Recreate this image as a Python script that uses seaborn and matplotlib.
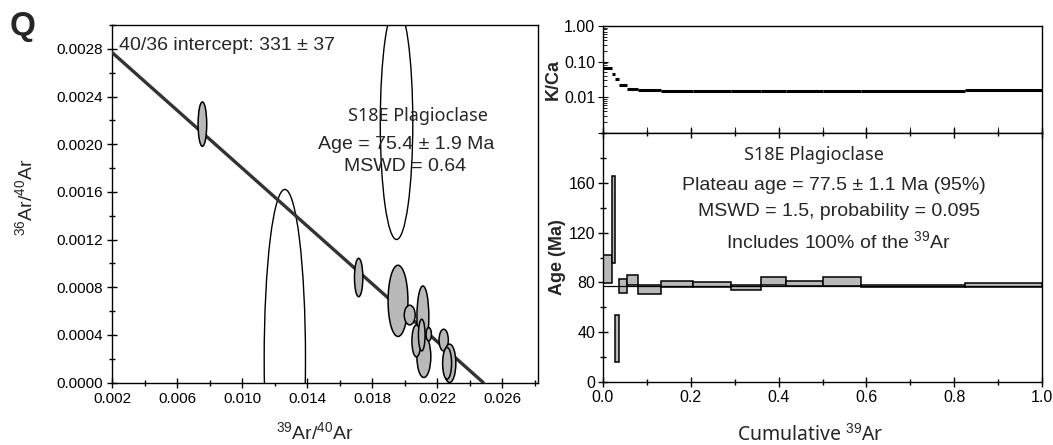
import numpy as np
import pandas as pd
import matplotlib
matplotlib.use("Agg")
import matplotlib.pyplot as plt
from matplotlib.patches import Ellipse
from matplotlib.ticker import (MultipleLocator, FormatStrFormatter, FixedLocator,
                               FixedFormatter, LogLocator, NullFormatter)
import seaborn as sns

# ---------------- Isochron data (left panel) ----------------
# filled error ellipses: centre x, centre y, half-width, half-height
ell_x = [0.00756, 0.01717, 0.01959, 0.02112, 0.02031, 0.02118, 0.02072, 0.02105, 0.02148, 0.02240, 0.02276, 0.02261]
ell_y = [0.002168, 0.000881, 0.000685, 0.000552, 0.000566, 0.000217, 0.000349, 0.000398, 0.000405, 0.000356, 0.000161, 0.000161]
ell_hw = [0.000265, 0.000257, 0.000611, 0.000366, 0.000336, 0.000428, 0.000275, 0.000204, 0.000163, 0.000285, 0.000387, 0.000275]
ell_hh = [0.000186, 0.000161, 0.000299, 0.000258, 0.0000824, 0.000175, 0.000134, 0.000133, 0.000056, 0.000091, 0.000161, 0.000133]
# open (excluded) ellipses
open_x = [0.0195, 0.01263]
open_y = [0.00218, 0.0002]
open_hw = [0.0010, 0.00127]
open_hh = [0.00098, 0.00142]
# isochron fit line end points
fit_x = [0.002, 0.02483]
fit_y = [0.00277, 0.0]

# ---------------- Age spectrum data (right panels) ----------------
step_left = [0.0, 0.021, 0.028, 0.037, 0.054, 0.080, 0.131, 0.204, 0.292, 0.359, 0.416, 0.501, 0.587, 0.824]
step_right = [0.021, 0.028, 0.037, 0.054, 0.080, 0.131, 0.204, 0.292, 0.359, 0.416, 0.501, 0.587, 0.824, 1.0]
step_age = [90.8, 130.1, 35.2, 76.9, 81.8, 74.1, 78.6, 78.5, 75.9, 81.2, 79.2, 80.7, 77.0, 77.6]
step_err = [11.6, 34.9, 18.7, 5.7, 4.0, 3.7, 2.6, 2.0, 2.0, 3.3, 2.2, 3.4, 1.0, 1.6]
step_kca = [0.064, 0.046, 0.032, 0.022, 0.0168, 0.0155, 0.0152, 0.0152, 0.0153, 0.0152, 0.0152, 0.0152, 0.0152, 0.0158]
plateau_x = [0.0, 1.0]
plateau_age = [77.5, 77.5]

xticks_L = [0.002, 0.006, 0.010, 0.014, 0.018, 0.022, 0.026]
yticks_L = [0.0, 0.0004, 0.0008, 0.0012, 0.0016, 0.0020, 0.0024, 0.0028]
kca_ticks = [0.001, 0.01, 0.1, 1.0]
kca_labels = ["", "0.01", "0.10", "1.00"]
age_ticks = [0, 40, 80, 120, 160]
cum_ticks = [0.0, 0.2, 0.4, 0.6, 0.8, 1.0]

GRAY = "#b9b9b9"

sns.set_style("ticks")
plt.rcParams["font.family"] = ["Liberation Sans", "DejaVu Sans"]
plt.rcParams["mathtext.fontset"] = "custom"
plt.rcParams["mathtext.rm"] = "Liberation Sans"
plt.rcParams["mathtext.it"] = "Liberation Sans:italic"
plt.rcParams["mathtext.bf"] = "Liberation Sans:bold"
plt.rcParams["axes.edgecolor"] = "black"
plt.rcParams["axes.linewidth"] = 1.0
plt.rcParams["xtick.color"] = "black"
plt.rcParams["ytick.color"] = "black"

fig = plt.figure(figsize=(10.53, 4.45), dpi=100)
W, H = 1053.0, 445.0

def box(x0, y0, x1, y1):
    return [x0 / W, 1 - y1 / H, (x1 - x0) / W, (y1 - y0) / H]

axL = fig.add_axes(box(112, 25, 538, 382.5))
axK = fig.add_axes(box(603, 26, 1042, 132.7))
axA = fig.add_axes(box(603, 132.7, 1042, 382.3))

# ---------- Left: isochron ----------
for x, y, hw, hh in zip(open_x, open_y, open_hw, open_hh):
    axL.add_patch(Ellipse((x, y), 2 * hw, 2 * hh, facecolor="white", edgecolor="black",
                          linewidth=1.0, zorder=2))
sns.lineplot(x=fit_x, y=fit_y, ax=axL, color="#333333", linewidth=2.4, zorder=3)
for x, y, hw, hh in zip(ell_x, ell_y, ell_hw, ell_hh):
    axL.add_patch(Ellipse((x, y), 2 * hw, 2 * hh, facecolor=GRAY, edgecolor="black",
                          linewidth=1.1, zorder=4))
axL.set_xlim(0.002, 0.0282)
axL.set_ylim(0.0, 0.003)
axL.xaxis.set_major_locator(FixedLocator(xticks_L))
axL.yaxis.set_major_locator(FixedLocator(yticks_L))
axL.xaxis.set_minor_locator(MultipleLocator(0.002))
axL.yaxis.set_minor_locator(MultipleLocator(0.0002))
axL.xaxis.set_major_formatter(FormatStrFormatter("%.3f"))
axL.yaxis.set_major_formatter(FormatStrFormatter("%.4f"))
axL.tick_params(which="major", direction="inout", length=7, width=1.0, labelsize=11, pad=3)
axL.tick_params(which="minor", direction="inout", length=4, width=1.0)
axL.set_xlabel("")
axL.set_ylabel("")

axL.text(0.0024, 0.00283, "40/36 intercept: 331 \u00b1 37", fontsize=14, va="center", ha="left")
axL.text(0.0165, 0.00224, "S18E Plagioclase", fontsize=13, va="center", ha="left",
         family=["Noto Sans", "DejaVu Sans"])
axL.text(0.0201, 0.00200, "Age = 75.4 \u00b1 1.9 Ma", fontsize=14, va="center", ha="center")
axL.text(0.0200, 0.00181, "MSWD = 0.64", fontsize=14, va="center", ha="center")

fig.text(315 / W, 1 - 432 / H, r"$^{39}$Ar/$^{40}$Ar", fontsize=14, ha="center", va="center")
fig.text(25 / W, 1 - 197 / H, r"$^{36}$Ar/$^{40}$Ar", fontsize=14, ha="center", va="center",
         rotation=90)
fig.text(10 / W, 1 - 27 / H, "Q", fontsize=24, fontweight="bold", ha="left", va="center")

# ---------- Right top: K/Ca ----------
axK.hlines(step_kca, step_left, step_right, colors="black", linewidth=2.2)
axK.set_yscale("log")
axK.set_ylim(0.001, 1.0)
axK.set_xlim(0, 1.0)
axK.yaxis.set_major_locator(FixedLocator(kca_ticks))
axK.yaxis.set_major_formatter(FixedFormatter(kca_labels))
axK.yaxis.set_minor_locator(LogLocator(base=10, subs=np.arange(2, 10)))
axK.yaxis.set_minor_formatter(NullFormatter())
axK.xaxis.set_major_locator(FixedLocator(cum_ticks))
axK.xaxis.set_minor_locator(MultipleLocator(0.1))
axK.tick_params(axis="x", which="both", direction="in", length=4, labelbottom=False)
axK.tick_params(axis="y", which="major", direction="inout", length=7, labelsize=11.5, pad=2)
axK.tick_params(axis="y", which="minor", direction="in", length=3)
axK.set_ylabel("K/Ca", fontsize=13, fontweight="bold", labelpad=2)

# ---------- Right bottom: age spectrum ----------
widths = [r - l for l, r in zip(step_left, step_right)]
bottoms = [a - e for a, e in zip(step_age, step_err)]
heights = [2 * e for e in step_err]
axA.bar(step_left, heights, width=widths, bottom=bottoms, align="edge", color=GRAY,
        edgecolor="black", linewidth=1.1, zorder=2)
sns.lineplot(x=plateau_x, y=plateau_age, ax=axA, color="black", linewidth=0.9, zorder=3)
axA.set_xlim(0, 1.0)
axA.set_ylim(0, 200)
axA.yaxis.set_major_locator(FixedLocator(age_ticks))
axA.yaxis.set_minor_locator(MultipleLocator(20))
axA.xaxis.set_major_locator(FixedLocator(cum_ticks))
axA.xaxis.set_minor_locator(MultipleLocator(0.1))
axA.xaxis.set_major_formatter(FormatStrFormatter("%.1f"))
axA.tick_params(which="major", direction="inout", length=7, width=1.0, labelsize=11.5, pad=2)
axA.tick_params(which="minor", direction="inout", length=4, width=1.0)
axA.tick_params(axis="x", top=True, which="both")
axA.set_xlabel("")
axA.set_ylabel("Age (Ma)", fontsize=13, fontweight="bold", labelpad=2)

axA.text(0.48, 182, "S18E Plagioclase", fontsize=13, ha="center", va="center",
         family=["Noto Sans", "DejaVu Sans"])
axA.text(0.527, 157.5, "Plateau age = 77.5 \u00b1 1.1 Ma (95%)", fontsize=14, ha="center", va="center")
axA.text(0.537, 137, "MSWD = 1.5, probability = 0.095", fontsize=14, ha="center", va="center")
axA.text(0.537, 113, r"Includes 100% of the $^{39}$Ar", fontsize=14, ha="center", va="center")

fig.text(810 / W, 1 - 434 / H, r"Cumulative $^{39}$Ar", fontsize=14, ha="center", va="center",
         family=["Noto Sans", "DejaVu Sans"])

fig.savefig("out.png", dpi=100)
